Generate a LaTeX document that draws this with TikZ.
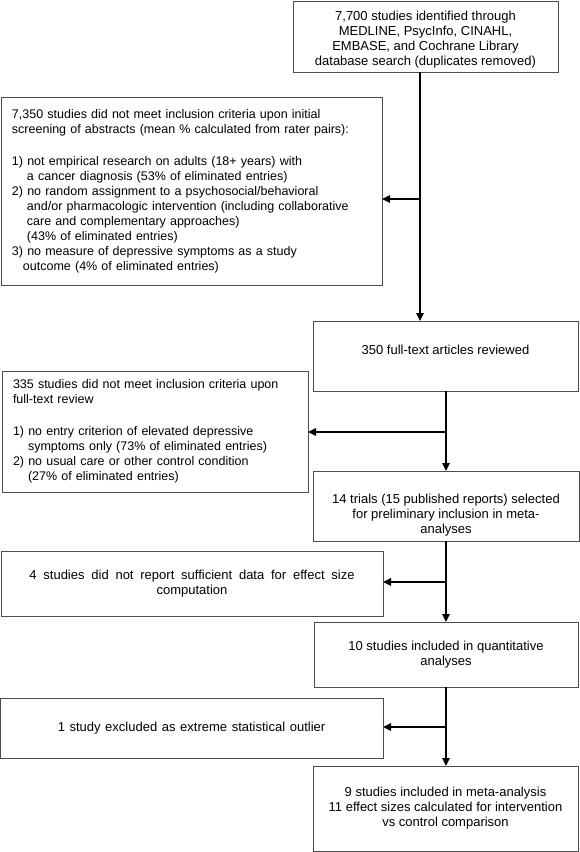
\documentclass[tikz,border=0pt]{standalone}
\usepackage{fontspec}
\setmainfont{Liberation Sans}
\usetikzlibrary{arrows.meta, positioning}

\begin{document}
\begin{tikzpicture}[x=1pt, y=-1pt, >={Triangle[length=8pt,width=7.5pt]}, line width=1.6pt,
    font=\fontsize{13}{15}\selectfont]
        \tikzstyle{every node}=[draw=black!70, line width=0.8pt, inner sep=0pt, outer sep=0pt, text=black]
        \tikzstyle{stepbox}=[align=center]
        \tikzstyle{listbox}=[align=left, inner xsep=11pt, font=\fontsize{12.5}{15}\selectfont]
        \useasboundingbox (0,0) rectangle (580,852);
        \node[stepbox, minimum width=265, minimum height=71] (A) at (425.5,36.5)
            {\rule{0pt}{15pt}7,700 studies identified through\\ MEDLINE, PsycInfo, CINAHL,\\ EMBASE, and Cochrane Library\\ database search (duplicates removed)};
        \node[listbox, text width=359pt, minimum height=188] (B) at (191.5,191)
            {7,350 studies did not meet inclusion criteria upon initial\\
            screening of abstracts (mean \% calculated from rater pairs):\\[17pt]
            1) not empirical research on adults (18+ years) with\\
            \hspace*{15pt}a cancer diagnosis (53\% of eliminated entries)\\
            2) no random assignment to a psychosocial/behavioral\\
            \hspace*{15pt}and/or pharmacologic intervention (including collaborative\\
            \hspace*{15pt}care and complementary approaches)\\
            \hspace*{15pt}(43\% of eliminated entries)\\
            3) no measure of depressive symptoms as a study\\
            \hspace*{11pt}outcome (4\% of eliminated entries)};
        \node[stepbox, minimum width=265, minimum height=70] (C) at (445.5,356)
            {350 full-text articles reviewed\rule[-13pt]{0pt}{13pt}};
        \node[listbox, text width=284pt, minimum height=121] (D) at (155,431.5)
            {335 studies did not meet inclusion criteria upon\\
            full-text review\\[17pt]
            1) no entry criterion of elevated depressive\\
            \hspace*{15pt}symptoms only (73\% of eliminated entries)\\
            2) no usual care or other control condition\\
            \hspace*{15pt}(27\% of eliminated entries)};
        \node[stepbox, minimum width=266, minimum height=70] (E) at (446,506)
            {\rule{0pt}{27pt}14 trials (15 published reports) selected\\ for preliminary inclusion in meta-\\ analyses};
        \node[stepbox, minimum width=382, minimum height=65] (F) at (192,583.5)
            {\spaceskip=6.8pt 4 studies did not report sufficient data for effect size\\ computation};
        \node[stepbox, minimum width=264, minimum height=65] (G) at (446,654.5)
            {10 studies included in quantitative\\ analyses};
        \node[stepbox, minimum width=383, minimum height=60] (H) at (191.5,728)
            {\spaceskip=4.6pt 1 study excluded as extreme statistical outlier};
        \node[stepbox, minimum width=265, minimum height=85] (I) at (445.5,808.5)
            {9 studies included in meta-analysis\\ 11 effect sizes calculated for intervention\\ vs control comparison};
        \coordinate (s1) at (420,199);
        \coordinate (s2) at (446,432);
        \coordinate (s3) at (446,582);
        \coordinate (s4) at (446,727);
        \draw[->] (s1 |- A.south) -- (s1 |- C.north);
        \draw[->] (s1) -- (B.east |- s1);
        \draw[->] (s2 |- C.south) -- (s2 |- E.north);
        \draw[->] (s2) -- (D.east |- s2);
        \draw[->] (s3 |- E.south) -- (s3 |- G.north);
        \draw[->] (s3) -- (F.east |- s3);
        \draw[->] (s4 |- G.south) -- (s4 |- I.north);
        \draw[->] (s4) -- (H.east |- s4);
\end{tikzpicture}
\end{document}
